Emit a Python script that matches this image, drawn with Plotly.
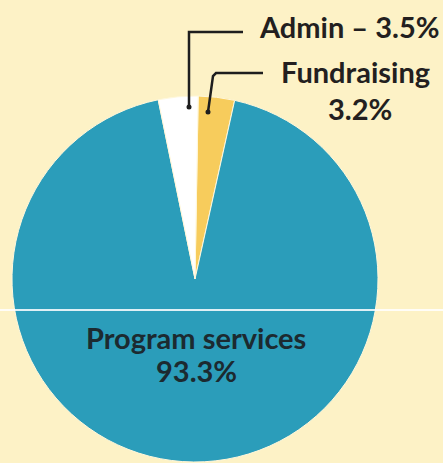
import plotly.graph_objects as go

# Data
categories = ["Fundraising", "Program services", "Admin"]
values = [3.2, 93.3, 3.5]
colors = ["#F7CC5C", "#2B9DBA", "#FFFFFF"]

W, H = 443, 463
BG = "#FDF2C6"


def px(x):
    return x / W


def py(y):
    return 1 - y / H


cx, cy, r = 195, 279, 183

fig = go.Figure(
    go.Pie(
        labels=categories,
        values=values,
        sort=False,
        direction="clockwise",
        rotation=1,
        marker=dict(colors=colors, line=dict(color="#FFF8DC", width=1)),
        textinfo="none",
        hoverinfo="label+percent",
        showlegend=False,
        domain=dict(x=[px(cx - r), px(cx + r)], y=[py(cy + r), py(cy - r)]),
    )
)

font_bold = "Lato"
dark = "#231F20"
fs = 29

annotations = [
    dict(x=px(349), y=py(26), text="<b>Admin – 3.5%</b>",
         font=dict(family=font_bold, size=fs, color=dark)),
    dict(x=px(355), y=py(71), text="<b>Fundraising</b>",
         font=dict(family=font_bold, size=fs, color=dark)),
    dict(x=px(360), y=py(108), text="<b>3.2%</b>",
         font=dict(family=font_bold, size=fs, color=dark)),
    dict(x=px(196), y=py(337), text="<b>Program services</b>",
         font=dict(family=font_bold, size=fs, color="#1C2A30")),
    dict(x=px(196), y=py(370), text="<b>93.3%</b>",
         font=dict(family=font_bold, size=fs, color="#1C2A30")),
]
for a in annotations:
    a.update(xref="paper", yref="paper", showarrow=False,
             xanchor="center", yanchor="middle")


def path(points):
    return "M " + " L ".join(f"{px(x)},{py(y)}" for x, y in points)


shapes = [
    # scan fold line
    dict(type="line", xref="paper", yref="paper",
         x0=0, x1=1, y0=py(310), y1=py(310),
         line=dict(color="rgba(255,255,255,0.85)", width=2)),
    # Admin leader
    dict(type="path", xref="paper", yref="paper",
         path=path([(189, 107), (189, 32), (243, 32)]),
         line=dict(color="#1E1E1E", width=2.5)),
    # Fundraising leader
    dict(type="path", xref="paper", yref="paper",
         path=path([(208, 112), (213, 76), (216, 73), (263, 73)]),
         line=dict(color="#1E1E1E", width=2.5)),
    # dots
    dict(type="circle", xref="paper", yref="paper",
         x0=px(186.5), x1=px(191.5), y0=py(109.5), y1=py(104.5),
         fillcolor="#1E1E1E", line=dict(width=0)),
    dict(type="circle", xref="paper", yref="paper",
         x0=px(205.5), x1=px(210.5), y0=py(114.5), y1=py(109.5),
         fillcolor="#1E1E1E", line=dict(width=0)),
]

fig.update_layout(
    width=W, height=H,
    margin=dict(l=0, r=0, t=0, b=0),
    paper_bgcolor=BG, plot_bgcolor=BG,
    annotations=annotations,
    shapes=shapes,
)

fig.write_html(
    "out.html",
    config={"displayModeBar": False},
    post_script="document.body.style.margin='0';document.body.style.overflow='hidden';",
)
